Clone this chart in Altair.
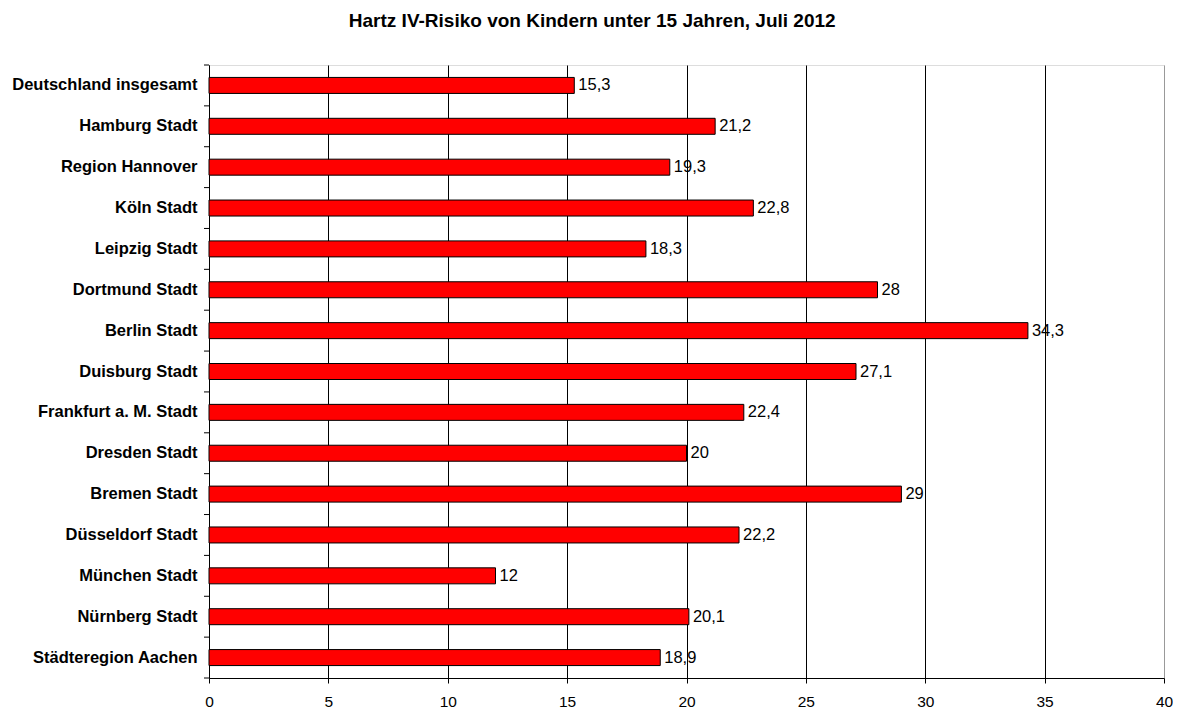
import altair as alt
import pandas as pd

categories = [
    "Deutschland insgesamt", "Hamburg Stadt", "Region Hannover", "Köln Stadt",
    "Leipzig Stadt", "Dortmund Stadt", "Berlin Stadt", "Duisburg Stadt",
    "Frankfurt a. M. Stadt", "Dresden Stadt", "Bremen Stadt", "Düsseldorf Stadt",
    "München Stadt", "Nürnberg Stadt", "Städteregion Aachen",
]
values = [15.3, 21.2, 19.3, 22.8, 18.3, 28, 34.3, 27.1, 22.4, 20, 29, 22.2, 12, 20.1, 18.9]
x_ticks = [0, 5, 10, 15, 20, 25, 30, 35, 40]

df = pd.DataFrame({"Region": categories, "Wert": values})
df["Label"] = [str(v).replace(".", ",") for v in values]

FONT = "Liberation Sans"

y_enc = alt.Y(
    "Region:N", sort=categories, title=None,
    scale=alt.Scale(paddingInner=0, paddingOuter=0),
)
x_enc = alt.X(
    "Wert:Q", title=None,
    scale=alt.Scale(domain=[0, 40], nice=False),
    axis=alt.Axis(
        values=x_ticks,
        gridColor={"condition": {"test": "datum.value == 40", "value": "#999999"}, "value": "black"},
    ),
)

base = alt.Chart(df).encode(x=x_enc, y=y_enc)

bars = base.mark_bar(color="#FF0000", stroke="black", strokeWidth=1, height=16)

labels = base.mark_text(
    align="left", baseline="middle", dx=4, font=FONT, fontSize=16.5, color="black"
).encode(text="Label:N")

# category separator ticks on the y axis (at band edges)
ticks_top = alt.Chart(df).mark_rule(color="black", strokeWidth=1).encode(
    y=alt.Y("Region:N", sort=categories, bandPosition=0),
    x=alt.value(-5), x2=alt.value(0),
)
ticks_end = alt.Chart(df).transform_filter(
    alt.datum.Region == categories[-1]
).mark_rule(color="black", strokeWidth=1).encode(
    y=alt.Y("Region:N", sort=categories, bandPosition=1),
    x=alt.value(-5), x2=alt.value(0),
)

chart = (
    (bars + labels + ticks_top + ticks_end)
    .properties(
        width=955, height=613,
        autosize=alt.AutoSizeParams(type="none"),
        padding={"left": 201, "top": 57, "right": 9, "bottom": 32},
        title=alt.TitleParams(
            "Hartz IV-Risiko von Kindern unter 15 Jahren, Juli 2012",
            font=FONT, fontSize=19, fontWeight="bold", color="black",
            anchor="middle", frame="bounds", offset=34,
        ),
    )
    .configure_view(stroke="#999999", strokeWidth=1.5)
    .configure(background="white")
    .configure_axisY(
        labelFont=FONT, labelFontSize=16.5, labelFontWeight="bold", labelColor="black",
        labelPadding=12, ticks=False, domain=True, domainColor="black", domainWidth=1,
        grid=False, labelLimit=400,
    )
    .configure_axisX(
        labelFont=FONT, labelFontSize=15.5, labelColor="black", labelFlush=False,
        labelPadding=11, ticks=True, tickSize=5, tickColor="black", tickWidth=1,
        domainColor="black", domainWidth=1, grid=True, gridOpacity=1, gridWidth=1,
    )
)

chart.save("out.html", embed_options={"renderer": "svg", "actions": False})
